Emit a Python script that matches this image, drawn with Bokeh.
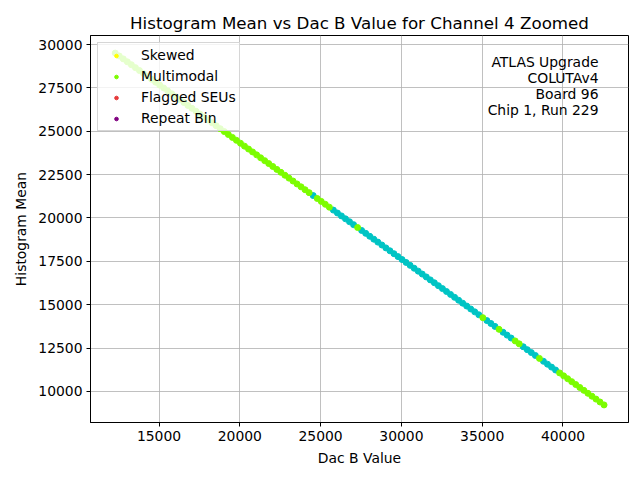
from bokeh.plotting import figure
from bokeh.models import Range1d, FixedTicker, Legend, LegendItem, Label
from bokeh.embed import file_html
from bokeh.resources import INLINE

# DAC B sweep and histogram means
dac_b = [
    12290, 12540, 12790, 13040, 13290, 13540, 13790, 14040, 14290, 14540,
    14790, 15040, 15290, 15540, 15790, 16040, 16290, 16540, 16790, 17040,
    17290, 17540, 17790, 18040, 18290, 18540, 18790, 19040, 19290, 19540,
    19790, 20040, 20290, 20540, 20790, 21040, 21290, 21540, 21790, 22040,
    22290, 22540, 22790, 23040, 23290, 23540, 23790, 24040, 24290, 24540,
    24790, 25040, 25290, 25540, 25790, 26040, 26290, 26540, 26790, 27040,
    27290, 27540, 27790, 28040, 28290, 28540, 28790, 29040, 29290, 29540,
    29790, 30040, 30290, 30540, 30790, 31040, 31290, 31540, 31790, 32040,
    32290, 32540, 32790, 33040, 33290, 33540, 33790, 34040, 34290, 34540,
    34790, 35040, 35290, 35540, 35790, 36040, 36290, 36540, 36790, 37040,
    37290, 37540, 37790, 38040, 38290, 38540, 38790, 39040, 39290, 39540,
    39790, 40040, 40290, 40540, 40790, 41040, 41290, 41540, 41790, 42040,
    42290, 42540,
]
hist_mean = [
    29505, 29337, 29170, 29002, 28835, 28667, 28499, 28332, 28164, 27997,
    27829, 27661, 27494, 27326, 27159, 26991, 26823, 26656, 26488, 26321,
    26153, 25985, 25818, 25650, 25483, 25315, 25147, 24980, 24812, 24645,
    24477, 24309, 24142, 23974, 23807, 23639, 23471, 23304, 23136, 22969,
    22801, 22633, 22466, 22298, 22131, 21963, 21795, 21628, 21460, 21293,
    21125, 20957, 20790, 20622, 20455, 20287, 20119, 19952, 19784, 19617,
    19449, 19281, 19114, 18946, 18779, 18611, 18443, 18276, 18108, 17941,
    17773, 17605, 17438, 17270, 17103, 16935, 16767, 16600, 16432, 16265,
    16097, 15929, 15762, 15594, 15427, 15259, 15091, 14924, 14756, 14589,
    14421, 14253, 14086, 13918, 13751, 13583, 13415, 13248, 13080, 12913,
    12745, 12577, 12410, 12242, 12075, 11907, 11739, 11572, 11404, 11237,
    11069, 10901, 10734, 10566, 10399, 10231, 10063, 9896, 9728, 9561,
    9393, 9225,
]
# N = normal, M = multimodal
status = (
    "MMMMMMMMMM"
    "MMMMMMMMMM"
    "MMMMMMMMMM"
    "MMMMMMMMMM"
    "MMMMMMMMMN"
    "MMMMNNNNNN"
    "MNNNNNNNNN"
    "NNNNNNNNNN"
    "NNNNNNNNNN"
    "NMNNNMNNNM"
    "MNNNNMNNNN"
    "MMMMMMMMMM"
    "MM"
)

legend_labels = ["Skewed", "Multimodal", "Flagged SEUs", "Repeat Bin"]
legend_colors = ["#ffff00", "#7cfc00", "#e6393a", "#800080"]
info_lines = ["ATLAS Upgrade", "COLUTAv4", "Board 96", "Chip 1, Run 229"]
x_ticks = [15000, 20000, 25000, 30000, 35000, 40000]
y_ticks = [10000, 12500, 15000, 17500, 20000, 22500, 25000, 27500, 30000]

FONT = "DejaVu Sans"
FS = "13.9px"

p = figure(width=640, height=480, output_backend="svg", toolbar_location=None,
           title="Histogram Mean vs Dac B Value for Channel 4 Zoomed",
           x_range=Range1d(10760, 44054), y_range=Range1d(8211, 30519),
           min_border_left=90, min_border_right=12, min_border_top=35, min_border_bottom=58)

p.title.align = "center"
p.title.text_font = FONT
p.title.text_font_size = "16.7px"
p.title.text_font_style = "normal"
p.title.text_color = "black"
p.title.standoff = 6

p.outline_line_color = "black"
p.outline_line_width = 1
p.grid.grid_line_color = "#b0b0b0"
p.grid.grid_line_width = 0.8
p.xaxis.ticker = FixedTicker(ticks=x_ticks)
p.yaxis.ticker = FixedTicker(ticks=y_ticks)
p.xaxis.axis_label = "Dac B Value"
p.yaxis.axis_label = "Histogram Mean"
for ax in (p.xaxis, p.yaxis):
    ax.axis_line_color = "black"
    ax.major_tick_line_color = "black"
    ax.major_tick_in = 0
    ax.major_tick_out = 4
    ax.minor_tick_in = 0
    ax.minor_tick_out = 0
    ax.major_label_standoff = 4
    ax.major_label_text_font = FONT
    ax.major_label_text_font_size = FS
    ax.major_label_text_color = "black"
    ax.axis_label_text_font = FONT
    ax.axis_label_text_font_size = FS
    ax.axis_label_text_font_style = "normal"
    ax.axis_label_text_color = "black"
    ax.axis_label_standoff = 6

norm_x = [x for x, s in zip(dac_b, status) if s == "N"]
norm_y = [y for y, s in zip(hist_mean, status) if s == "N"]
multi_x = [x for x, s in zip(dac_b, status) if s == "M"]
multi_y = [y for y, s in zip(hist_mean, status) if s == "M"]

p.scatter(norm_x, norm_y, size=6, color="#00c4c4")
p.scatter(multi_x, multi_y, size=6, color="#7cfc00")

# legend-only markers (no points of these kinds are on screen)
nan = float("nan")
items = []
for lab, col in zip(legend_labels, legend_colors):
    r = p.scatter(x=[nan], y=[nan], size=4, color=col)
    items.append(LegendItem(label=lab, renderers=[r]))

legend = Legend(items=items, location="top_left", margin=7, padding=3, spacing=3,
                glyph_height=9, glyph_width=30, label_height=18, label_standoff=10,
                label_text_font=FONT, label_text_font_size=FS, label_text_color="black",
                border_line_color="#d6d6d6", border_line_alpha=1.0,
                background_fill_alpha=0.8)
p.add_layout(legend)

for i, line in enumerate(info_lines):
    p.add_layout(Label(x=508, y=361 - 16 * i, x_units="screen", y_units="screen",
                       text=line, text_align="right", text_baseline="middle",
                       text_font=FONT, text_font_size=FS, text_color="black"))

open("out.html", "w").write(file_html(p, INLINE))
